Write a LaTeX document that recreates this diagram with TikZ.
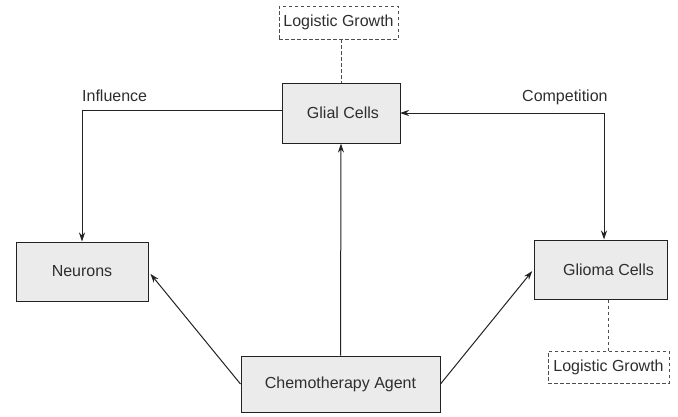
\documentclass[tikz,border=0pt]{standalone}
\usepackage{fontspec}
\setmainfont{Liberation Sans}
\usetikzlibrary{arrows.meta}
\definecolor{boxfill}{HTML}{EBEBEB}
\definecolor{ink}{HTML}{222222}
\definecolor{txt}{HTML}{2E2E2E}
\tikzset{
  box/.style={draw=ink, line width=1pt, fill=boxfill, text=txt, inner sep=0pt, font=\fontsize{16}{19}\selectfont},
  dbox/.style={draw=ink!80, dashed, dash pattern=on 3.5pt off 2.5pt, line width=0.9pt, text=txt, inner sep=0pt, font=\fontsize{16}{19}\selectfont},
  conn/.style={draw=ink, line width=1pt},
  arr/.style={conn, -{Stealth[length=9pt,width=6pt]}},
  darr/.style={conn, {Stealth[length=9pt,width=6pt]}-{Stealth[length=9pt,width=6pt]}},
  dline/.style={draw=ink!80, line width=0.9pt, dash pattern=on 3.5pt off 2.5pt},
  lbl/.style={text=txt, inner sep=0pt, font=\fontsize{16}{19}\selectfont}
}
\begin{document}
\begin{tikzpicture}[x=1pt,y=-1pt]
\useasboundingbox (0,0) rectangle (678,416);
% boxes
\node[box, minimum width=118pt, minimum height=60pt] (glial) at (341,113) {\hspace*{4pt}Glial Cells};
\node[box, minimum width=132pt, minimum height=59pt] (neur) at (82,271.5) {Neurons};
\node[box, minimum width=133pt, minimum height=59pt] (glioma) at (600.5,269.5) {\hspace*{16pt}Glioma Cells};
\node[box, minimum width=199pt, minimum height=56pt] (chemo) at (340.5,384) {Chemotherapy Agent};
\node[dbox, minimum width=119pt, minimum height=33pt] (lg1) at (338.5,22.5) {Logistic Growth};
\node[dbox, minimum width=121pt, minimum height=32pt] (lg2) at (608.5,367) {Logistic Growth};
% labels
\node[lbl, anchor=base west] (infl) at (82,101) {Influence};
\node[lbl, anchor=base west] (comp) at (522,101) {Competition};
% coordinates
\coordinate (gl) at (282,110);
\coordinate (nt) at (82,110);
\coordinate (gr) at (400,113);
\coordinate (ct) at (604,113);
% connectors
\draw[arr] (gl) -- (nt) -- (nt |- neur.north);
\draw[darr] (gr) -- (ct) -- (ct |- glioma.north);
\draw[arr] (chemo.north) -- (glial.south);
\draw[arr, shorten >=3pt] (chemo.west) -- (neur.east);
\draw[arr, shorten >=2pt] (chemo.east) -- (glioma.west);
\draw[dline] (lg1.south -| glial.north) -- (glial.north);
\draw[dline] (glioma.south -| lg2.north) -- (lg2.north);
\end{tikzpicture}
\end{document}
